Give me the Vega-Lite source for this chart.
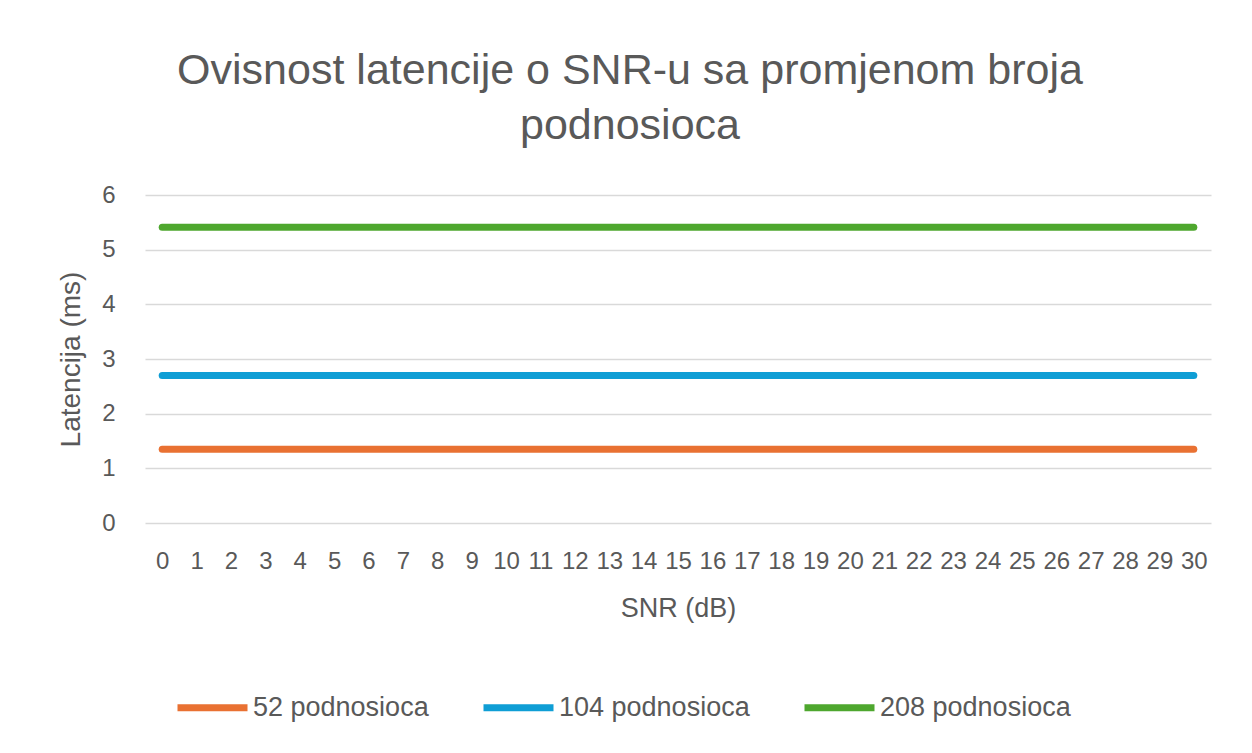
{
  "$schema": "https://vega.github.io/schema/vega-lite/v6.json",
  "width": 1066,
  "height": 328,
  "autosize": {"type": "none"},
  "padding": {"left": 145, "top": 195, "right": 41, "bottom": 230},
  "background": "white",
  "config": {
    "font": "Liberation Sans",
    "view": {"stroke": null}
  },
  "title": {
    "text": ["Ovisnost latencije o SNR-u sa promjenom broja", "podnosioca"],
    "font": "Liberation Sans",
    "fontSize": 43,
    "fontWeight": "normal",
    "color": "#595959",
    "anchor": "middle",
    "frame": "group",
    "dx": -48,
    "lineHeight": 55,
    "offset": 35
  },
  "data": {
    "values": [
      {"snr": 0, "serija": "52 podnosioca", "latencija": 1.35},
      {"snr": 1, "serija": "52 podnosioca", "latencija": 1.35},
      {"snr": 2, "serija": "52 podnosioca", "latencija": 1.35},
      {"snr": 3, "serija": "52 podnosioca", "latencija": 1.35},
      {"snr": 4, "serija": "52 podnosioca", "latencija": 1.35},
      {"snr": 5, "serija": "52 podnosioca", "latencija": 1.35},
      {"snr": 6, "serija": "52 podnosioca", "latencija": 1.35},
      {"snr": 7, "serija": "52 podnosioca", "latencija": 1.35},
      {"snr": 8, "serija": "52 podnosioca", "latencija": 1.35},
      {"snr": 9, "serija": "52 podnosioca", "latencija": 1.35},
      {"snr": 10, "serija": "52 podnosioca", "latencija": 1.35},
      {"snr": 11, "serija": "52 podnosioca", "latencija": 1.35},
      {"snr": 12, "serija": "52 podnosioca", "latencija": 1.35},
      {"snr": 13, "serija": "52 podnosioca", "latencija": 1.35},
      {"snr": 14, "serija": "52 podnosioca", "latencija": 1.35},
      {"snr": 15, "serija": "52 podnosioca", "latencija": 1.35},
      {"snr": 16, "serija": "52 podnosioca", "latencija": 1.35},
      {"snr": 17, "serija": "52 podnosioca", "latencija": 1.35},
      {"snr": 18, "serija": "52 podnosioca", "latencija": 1.35},
      {"snr": 19, "serija": "52 podnosioca", "latencija": 1.35},
      {"snr": 20, "serija": "52 podnosioca", "latencija": 1.35},
      {"snr": 21, "serija": "52 podnosioca", "latencija": 1.35},
      {"snr": 22, "serija": "52 podnosioca", "latencija": 1.35},
      {"snr": 23, "serija": "52 podnosioca", "latencija": 1.35},
      {"snr": 24, "serija": "52 podnosioca", "latencija": 1.35},
      {"snr": 25, "serija": "52 podnosioca", "latencija": 1.35},
      {"snr": 26, "serija": "52 podnosioca", "latencija": 1.35},
      {"snr": 27, "serija": "52 podnosioca", "latencija": 1.35},
      {"snr": 28, "serija": "52 podnosioca", "latencija": 1.35},
      {"snr": 29, "serija": "52 podnosioca", "latencija": 1.35},
      {"snr": 30, "serija": "52 podnosioca", "latencija": 1.35},
      {"snr": 0, "serija": "104 podnosioca", "latencija": 2.7},
      {"snr": 1, "serija": "104 podnosioca", "latencija": 2.7},
      {"snr": 2, "serija": "104 podnosioca", "latencija": 2.7},
      {"snr": 3, "serija": "104 podnosioca", "latencija": 2.7},
      {"snr": 4, "serija": "104 podnosioca", "latencija": 2.7},
      {"snr": 5, "serija": "104 podnosioca", "latencija": 2.7},
      {"snr": 6, "serija": "104 podnosioca", "latencija": 2.7},
      {"snr": 7, "serija": "104 podnosioca", "latencija": 2.7},
      {"snr": 8, "serija": "104 podnosioca", "latencija": 2.7},
      {"snr": 9, "serija": "104 podnosioca", "latencija": 2.7},
      {"snr": 10, "serija": "104 podnosioca", "latencija": 2.7},
      {"snr": 11, "serija": "104 podnosioca", "latencija": 2.7},
      {"snr": 12, "serija": "104 podnosioca", "latencija": 2.7},
      {"snr": 13, "serija": "104 podnosioca", "latencija": 2.7},
      {"snr": 14, "serija": "104 podnosioca", "latencija": 2.7},
      {"snr": 15, "serija": "104 podnosioca", "latencija": 2.7},
      {"snr": 16, "serija": "104 podnosioca", "latencija": 2.7},
      {"snr": 17, "serija": "104 podnosioca", "latencija": 2.7},
      {"snr": 18, "serija": "104 podnosioca", "latencija": 2.7},
      {"snr": 19, "serija": "104 podnosioca", "latencija": 2.7},
      {"snr": 20, "serija": "104 podnosioca", "latencija": 2.7},
      {"snr": 21, "serija": "104 podnosioca", "latencija": 2.7},
      {"snr": 22, "serija": "104 podnosioca", "latencija": 2.7},
      {"snr": 23, "serija": "104 podnosioca", "latencija": 2.7},
      {"snr": 24, "serija": "104 podnosioca", "latencija": 2.7},
      {"snr": 25, "serija": "104 podnosioca", "latencija": 2.7},
      {"snr": 26, "serija": "104 podnosioca", "latencija": 2.7},
      {"snr": 27, "serija": "104 podnosioca", "latencija": 2.7},
      {"snr": 28, "serija": "104 podnosioca", "latencija": 2.7},
      {"snr": 29, "serija": "104 podnosioca", "latencija": 2.7},
      {"snr": 30, "serija": "104 podnosioca", "latencija": 2.7},
      {"snr": 0, "serija": "208 podnosioca", "latencija": 5.41},
      {"snr": 1, "serija": "208 podnosioca", "latencija": 5.41},
      {"snr": 2, "serija": "208 podnosioca", "latencija": 5.41},
      {"snr": 3, "serija": "208 podnosioca", "latencija": 5.41},
      {"snr": 4, "serija": "208 podnosioca", "latencija": 5.41},
      {"snr": 5, "serija": "208 podnosioca", "latencija": 5.41},
      {"snr": 6, "serija": "208 podnosioca", "latencija": 5.41},
      {"snr": 7, "serija": "208 podnosioca", "latencija": 5.41},
      {"snr": 8, "serija": "208 podnosioca", "latencija": 5.41},
      {"snr": 9, "serija": "208 podnosioca", "latencija": 5.41},
      {"snr": 10, "serija": "208 podnosioca", "latencija": 5.41},
      {"snr": 11, "serija": "208 podnosioca", "latencija": 5.41},
      {"snr": 12, "serija": "208 podnosioca", "latencija": 5.41},
      {"snr": 13, "serija": "208 podnosioca", "latencija": 5.41},
      {"snr": 14, "serija": "208 podnosioca", "latencija": 5.41},
      {"snr": 15, "serija": "208 podnosioca", "latencija": 5.41},
      {"snr": 16, "serija": "208 podnosioca", "latencija": 5.41},
      {"snr": 17, "serija": "208 podnosioca", "latencija": 5.41},
      {"snr": 18, "serija": "208 podnosioca", "latencija": 5.41},
      {"snr": 19, "serija": "208 podnosioca", "latencija": 5.41},
      {"snr": 20, "serija": "208 podnosioca", "latencija": 5.41},
      {"snr": 21, "serija": "208 podnosioca", "latencija": 5.41},
      {"snr": 22, "serija": "208 podnosioca", "latencija": 5.41},
      {"snr": 23, "serija": "208 podnosioca", "latencija": 5.41},
      {"snr": 24, "serija": "208 podnosioca", "latencija": 5.41},
      {"snr": 25, "serija": "208 podnosioca", "latencija": 5.41},
      {"snr": 26, "serija": "208 podnosioca", "latencija": 5.41},
      {"snr": 27, "serija": "208 podnosioca", "latencija": 5.41},
      {"snr": 28, "serija": "208 podnosioca", "latencija": 5.41},
      {"snr": 29, "serija": "208 podnosioca", "latencija": 5.41},
      {"snr": 30, "serija": "208 podnosioca", "latencija": 5.41}
    ]
  },
  "mark": {"type": "line", "strokeWidth": 7, "strokeCap": "round", "strokeJoin": "round"},
  "encoding": {
    "x": {
      "field": "snr",
      "type": "ordinal",
      "sort": "ascending",
      "scale": {"type": "point", "padding": 0.5},
      "axis": {
        "title": "SNR (dB)",
        "titleFont": "Liberation Sans",
        "titleFontSize": 27,
        "titleFontWeight": "normal",
        "titleColor": "#595959",
        "titlePadding": 22,
        "labelFont": "Liberation Sans",
        "labelFontSize": 24,
        "labelColor": "#595959",
        "labelAngle": 0,
        "labelPadding": 26,
        "labelOverlap": false,
        "labelBaseline": "top",
        "domain": false,
        "ticks": false,
        "grid": false
      }
    },
    "y": {
      "field": "latencija",
      "type": "quantitative",
      "scale": {"domain": [0, 6], "nice": false},
      "axis": {
        "title": "Latencija (ms)",
        "titleFont": "Liberation Sans",
        "titleFontSize": 28,
        "titleFontWeight": "normal",
        "titleColor": "#595959",
        "titlePadding": 16,
        "labelFont": "Liberation Sans",
        "labelFontSize": 24,
        "labelColor": "#595959",
        "labelPadding": 30,
        "values": [0, 1, 2, 3, 4, 5, 6],
        "domain": false,
        "ticks": false,
        "grid": true,
        "gridColor": "#D9D9D9",
        "gridWidth": 1.5
      }
    },
    "color": {
      "field": "serija",
      "type": "nominal",
      "scale": {
        "domain": ["52 podnosioca", "104 podnosioca", "208 podnosioca"],
        "range": ["#E97132", "#0F9ED5", "#4EA72E"]
      },
      "legend": {
        "title": null,
        "orient": "none",
        "direction": "horizontal",
        "legendX": 29,
        "legendY": 474,
        "padding": 0,
        "symbolType": "stroke",
        "symbolSize": 4900,
        "symbolStrokeWidth": 7,
        "labelFont": "Liberation Sans",
        "labelFontSize": 27,
        "labelLimit": 0,
        "labelColor": "#595959",
        "labelOffset": 2,
        "columnPadding": 40
      }
    }
  }
}
